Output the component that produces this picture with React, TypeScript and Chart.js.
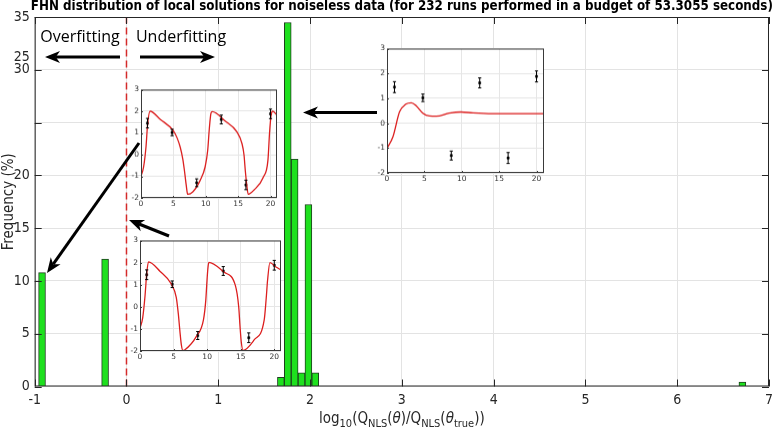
import React, { useEffect, useRef } from 'react';
import { Chart, registerables } from 'chart.js';

Chart.register(...registerables);

// ---------- data ----------
const binCenters = [-0.92, -0.233, 1.682, 1.757, 1.832, 1.907, 1.982, 2.057, 6.71];
const frequencyPct = [10.78, 12.07, 0.86, 34.48, 21.55, 1.29, 17.24, 1.29, 0.43];
const xTickValues = [-1, 0, 1, 2, 3, 4, 5, 6, 7];
const yTickValues = [0, 5, 10, 15, 20, 25, 30, 31.2, 35];
const yTickLabels = ['0', '5', '10', '15', '20', '', '30', '25', '35'];
const yGridValues = [0, 5, 10, 15, 20, 25, 30, 35];
const thresholdLine = [{ x: 0, y: 0 }, { x: 0, y: 35 }];

const obsTime = [1.0, 4.8, 8.6, 12.4, 16.2, 20.0];
const obsValue = [1.45, 1.02, -1.3, 1.62, -1.4, 1.88];
const obsError = [0.22, 0.15, 0.18, 0.2, 0.22, 0.22];

const insetXTicks = [0, 5, 10, 15, 20];
const insetYTicks = [-2, -1, 0, 1, 2, 3];

// inset A: fit of an underfitting local solution
const curveATime = [0, 0.4, 0.77, 1.03, 1.4, 3.0, 5.0, 5.6, 6.05, 6.45, 6.7, 7.0, 7.2, 8.0, 9.15, 9.9, 10.3, 10.55, 10.8, 11.0, 13.0, 14.8, 15.6, 15.9, 16.1, 16.35, 16.55, 17.4, 18.9, 19.6, 19.85, 20.1, 20.35, 21.0];
const curveAValue = [-1.0, -0.57, 0.35, 1.43, 2.0, 1.62, 1.1, 0.75, 0.35, -0.2, -0.72, -1.45, -1.83, -1.72, -1.18, -0.57, 0.2, 1.2, 1.9, 1.98, 1.55, 1.05, 0.5, 0.0, -0.72, -1.45, -1.83, -1.65, -1.03, -0.26, 1.0, 1.85, 2.0, 1.82];
// inset B: overfitting solution
const curveBTime = [0, 0.4, 0.75, 1.0, 1.26, 3.0, 4.67, 5.4, 5.7, 5.93, 6.15, 6.35, 6.7, 8.4, 9.45, 9.8, 9.95, 10.1, 10.25, 12.5, 14.2, 14.7, 14.9, 15.1, 15.35, 17.0, 18.5, 18.8, 19.0, 19.35, 20.25, 21.0];
const curveBValue = [-0.97, -0.5, 0.5, 1.5, 2.03, 1.6, 1.03, 0.43, -0.3, -1.06, -1.7, -1.97, -1.94, -1.34, -0.59, 0.3, 1.05, 1.7, 2.01, 1.57, 0.97, 0.0, -0.9, -1.64, -1.97, -1.5, -0.59, 0.4, 1.2, 2.0, 1.8, 1.67];
// inset C: damped solution of the tallest bin
const curveCTime = [0, 0.8, 1.68, 2.5, 3.25, 3.9, 4.8, 5.68, 6.6, 8.3, 9.9, 11.5, 14.1, 21.0];
const curveCValue = [-1.01, -0.54, 0.46, 0.76, 0.82, 0.7, 0.4, 0.29, 0.28, 0.4, 0.45, 0.41, 0.38, 0.38];

const TITLE = 'FHN distribution of local solutions for noiseless data (for 232 runs performed in a budget of 53.3055 seconds)';

// ---------- layout / style ----------
const W = 778;
const H = 430;
const NARROW = '"Liberation Sans Narrow", "DejaVu Sans Condensed", "Liberation Sans", Arial, sans-serif';
const SANS = '"Liberation Sans", Arial, sans-serif';
const AXIS = '#262626';
const GRID = '#e3e3e3';
const TITLE_WIDTH = 742;

const insetA = { left: 140.7, top: 89.3, width: 136, height: 108.4 };
const insetB = { left: 140, top: 240, width: 141, height: 111.3 };
const insetC = { left: 386.7, top: 48.3, width: 157.6, height: 124.4 };

const arrows = [
  [120, 57, 45, 57],
  [140, 57, 215, 57],
  [139, 143, 47, 273],
  [169, 236, 129, 220],
  [377, 112.5, 303, 112.5],
];

function drawArrow(ctx, x1, y1, x2, y2) {
  const lw = 3, headLen = 15, headHalf = 6;
  const a = Math.atan2(y2 - y1, x2 - x1);
  const c = Math.cos(a), s = Math.sin(a);
  const bx = x2 - headLen * c, by = y2 - headLen * s;
  const nx = x2 - headLen * 0.72 * c, ny = y2 - headLen * 0.72 * s;
  ctx.save();
  ctx.strokeStyle = '#000';
  ctx.fillStyle = '#000';
  ctx.lineWidth = lw;
  ctx.beginPath();
  ctx.moveTo(x1, y1);
  ctx.lineTo(nx, ny);
  ctx.stroke();
  ctx.beginPath();
  ctx.moveTo(x2, y2);
  ctx.lineTo(bx - headHalf * s, by + headHalf * c);
  ctx.lineTo(nx, ny);
  ctx.lineTo(bx + headHalf * s, by - headHalf * c);
  ctx.closePath();
  ctx.fill();
  ctx.restore();
}

const mainDecor = {
  id: 'mainDecor',
  afterDraw(chart) {
    const { ctx, chartArea: ca } = chart;
    const xs = chart.scales.x;
    const ys = chart.scales.y;
    ctx.save();
    // box
    ctx.strokeStyle = AXIS;
    ctx.lineWidth = 1;
    ctx.strokeRect(ca.left + 0.5, ca.top + 0.5, ca.right - ca.left - 1, ca.bottom - ca.top - 1);
    // inward ticks
    ctx.beginPath();
    xTickValues.forEach((v) => {
      const px = Math.round(xs.getPixelForValue(v)) + 0.5;
      ctx.moveTo(px, ca.bottom);
      ctx.lineTo(px, ca.bottom - 7);
      ctx.moveTo(px, ca.top);
      ctx.lineTo(px, ca.top + 7);
    });
    yGridValues.forEach((v) => {
      const py = Math.round(ys.getPixelForValue(v)) + 0.5;
      ctx.moveTo(ca.left, py);
      ctx.lineTo(ca.left + 7, py);
      ctx.moveTo(ca.right, py);
      ctx.lineTo(ca.right - 7, py);
    });
    ctx.stroke();

    // title, fitted to the reference width
    ctx.fillStyle = '#000';
    ctx.font = `bold 14px ${NARROW}`;
    const tw = ctx.measureText(TITLE).width;
    const size = Math.min(16, (14 * TITLE_WIDTH) / tw);
    ctx.font = `bold ${size.toFixed(2)}px ${NARROW}`;
    ctx.textAlign = 'center';
    ctx.textBaseline = 'middle';
    ctx.fillText(TITLE, (ca.left + ca.right) / 2, 7);

    // x label with subscripts
    const parts = [
      { t: 'log' }, { t: '10', sub: true }, { t: '(Q' }, { t: 'NLS', sub: true }, { t: '(' },
      { t: 'θ', it: true }, { t: ')/Q' }, { t: 'NLS', sub: true }, { t: '(' }, { t: 'θ', it: true },
      { t: 'true', sub: true }, { t: '))' },
    ];
    const fontOf = (p) => `${p.it ? 'italic ' : ''}${p.sub ? 11 : 15}px ${NARROW}`;
    let total = 0;
    parts.forEach((p) => { ctx.font = fontOf(p); p.w = ctx.measureText(p.t).width; total += p.w; });
    let x = (ca.left + ca.right) / 2 - total / 2;
    ctx.textAlign = 'left';
    ctx.textBaseline = 'alphabetic';
    ctx.fillStyle = AXIS;
    const base = 423;
    parts.forEach((p) => {
      ctx.font = fontOf(p);
      ctx.fillText(p.t, x, p.sub ? base + 4 : base);
      x += p.w;
    });

    // annotations
    ctx.fillStyle = '#000';
    ctx.font = `16px "Open Sans", ${SANS}`;
    ctx.textAlign = 'center';
    ctx.textBaseline = 'middle';
    ctx.fillText('Overfitting', 80, 37);
    ctx.fillText('Underfitting', 181, 37);
    arrows.forEach((a) => drawArrow(ctx, a[0], a[1], a[2], a[3]));
    ctx.restore();
  },
};

function MainChart() {
  const ref = useRef(null);
  useEffect(() => {
    const chart = new Chart(ref.current, {
      type: 'bar',
      data: {
        datasets: [
          {
            type: 'line',
            data: thresholdLine,
            borderColor: '#d42a2a',
            borderWidth: 1.5,
            borderDash: [7, 4],
            pointRadius: 0,
            order: 0,
          },
          {
            type: 'bar',
            data: binCenters.map((x, i) => ({ x, y: frequencyPct[i] })),
            backgroundColor: '#1ee01e',
            borderColor: '#1f3f1f',
            borderWidth: 1,
            borderSkipped: 'start',
            categoryPercentage: 1,
            barPercentage: 1,
            order: 1,
          },
        ],
      },
      options: {
        animation: false,
        responsive: false,
        maintainAspectRatio: false,
        events: [],
        layout: { padding: { left: 0, right: 4.6, top: 17, bottom: 0 } },
        plugins: { legend: { display: false }, tooltip: { enabled: false }, title: { display: false } },
        scales: {
          x: {
            type: 'linear',
            min: -1,
            max: 7,
            offset: false,
            afterBuildTicks: (s) => { s.ticks = xTickValues.map((v) => ({ value: v })); },
            afterFit: (s) => { s.height = 43.5; },
            grid: { color: GRID, drawTicks: false, offset: false },
            border: { display: false },
            ticks: {
              autoSkip: false,
              maxRotation: 0,
              padding: 5,
              color: AXIS,
              font: { family: NARROW, size: 14 },
              callback: (v) => String(v),
            },
          },
          y: {
            type: 'linear',
            min: 0,
            max: 35,
            afterBuildTicks: (s) => { s.ticks = yTickValues.map((v) => ({ value: v })); },
            afterFit: (s) => { s.width = 34.7; },
            grid: {
              color: (c) => (c.tick && yGridValues.includes(c.tick.value) ? GRID : 'rgba(0,0,0,0)'),
              drawTicks: false,
            },
            border: { display: false },
            ticks: {
              autoSkip: false,
              padding: 5,
              color: AXIS,
              font: { family: NARROW, size: 14 },
              callback: (v) => yTickLabels[yTickValues.indexOf(v)],
            },
            title: { display: true, text: 'Frequency (%)', color: AXIS, font: { family: NARROW, size: 15 }, padding: 0 },
          },
        },
      },
      plugins: [mainDecor],
    });
    return () => chart.destroy();
  }, []);
  return <canvas ref={ref} width={W} height={H} style={{ position: 'absolute', left: 0, top: 0, width: W, height: H }} />;
}

const insetDecor = {
  id: 'insetDecor',
  beforeDraw(chart) {
    const { ctx, chartArea: ca } = chart;
    ctx.save();
    ctx.fillStyle = '#fff';
    ctx.fillRect(ca.left, ca.top, ca.right - ca.left, ca.bottom - ca.top);
    ctx.restore();
  },
  afterDraw(chart) {
    const { ctx, chartArea: ca } = chart;
    const xs = chart.scales.x;
    const ys = chart.scales.y;
    ctx.save();
    // error bars
    chart.data.datasets.forEach((ds) => {
      if (!ds.errors) return;
      ctx.strokeStyle = '#000';
      ctx.lineWidth = 1;
      ds.data.forEach((p, i) => {
        const px = xs.getPixelForValue(p.x);
        const y1 = ys.getPixelForValue(p.y - ds.errors[i]);
        const y2 = ys.getPixelForValue(p.y + ds.errors[i]);
        ctx.beginPath();
        ctx.moveTo(px, y1); ctx.lineTo(px, y2);
        ctx.moveTo(px - 1.6, y1); ctx.lineTo(px + 1.6, y1);
        ctx.moveTo(px - 1.6, y2); ctx.lineTo(px + 1.6, y2);
        ctx.stroke();
      });
    });
    ctx.strokeStyle = '#3a3a3a';
    ctx.lineWidth = 1;
    ctx.strokeRect(ca.left + 0.5, ca.top + 0.5, ca.right - ca.left - 1, ca.bottom - ca.top - 1);
    ctx.beginPath();
    insetXTicks.forEach((v) => {
      const px = Math.round(xs.getPixelForValue(v)) + 0.5;
      ctx.moveTo(px, ca.bottom); ctx.lineTo(px, ca.bottom - 2);
    });
    insetYTicks.forEach((v) => {
      const py = Math.round(ys.getPixelForValue(v)) + 0.5;
      ctx.moveTo(ca.left, py); ctx.lineTo(ca.left + 2, py);
    });
    ctx.stroke();
    ctx.restore();
  },
};

function Inset({ box, t, y }) {
  const ref = useRef(null);
  const padL = 12, padT = 6, padR = 6, padB = 12;
  const cw = box.width + padL + padR;
  const chh = box.height + padT + padB;
  useEffect(() => {
    const tickFont = { family: '"DejaVu Sans", sans-serif', size: 7.5 };
    const chart = new Chart(ref.current, {
      type: 'line',
      data: {
        datasets: [
          {
            data: t.map((v, i) => ({ x: v, y: y[i] })),
            borderColor: '#dc1f1f',
            borderWidth: 1.3,
            pointRadius: 0,
            cubicInterpolationMode: 'monotone',
            fill: false,
          },
          {
            data: obsTime.map((v, i) => ({ x: v, y: obsValue[i] })),
            errors: obsError,
            showLine: false,
            pointStyle: 'rect',
            pointRadius: 1.5,
            backgroundColor: '#000',
            borderColor: '#000',
            borderWidth: 0.5,
          },
        ],
      },
      options: {
        animation: false,
        responsive: false,
        maintainAspectRatio: false,
        events: [],
        layout: { padding: { left: 0, right: padR, top: padT, bottom: 0 } },
        plugins: { legend: { display: false }, tooltip: { enabled: false } },
        scales: {
          x: {
            type: 'linear', min: 0, max: 21,
            afterBuildTicks: (s) => { s.ticks = insetXTicks.map((v) => ({ value: v })); },
            afterFit: (s) => { s.height = padB; },
            grid: { color: '#e6e6e6', drawTicks: false },
            border: { display: false },
            ticks: { autoSkip: false, maxRotation: 0, padding: 2, color: '#333', font: tickFont },
          },
          y: {
            type: 'linear', min: -2, max: 3,
            afterBuildTicks: (s) => { s.ticks = insetYTicks.map((v) => ({ value: v })); },
            afterFit: (s) => { s.width = padL; },
            grid: { color: '#e6e6e6', drawTicks: false },
            border: { display: false },
            ticks: { autoSkip: false, padding: 2, color: '#333', font: tickFont },
          },
        },
      },
      plugins: [insetDecor],
    });
    return () => chart.destroy();
  }, []);
  return (
    <canvas
      ref={ref}
      width={cw}
      height={chh}
      style={{ position: 'absolute', left: box.left - padL, top: box.top - padT, width: cw, height: chh }}
    />
  );
}

export default function App() {
  return (
    <div style={{ position: 'absolute', left: 0, top: 0, width: W, height: H, background: '#fff', overflow: 'hidden' }}>
      <MainChart />
      <Inset box={insetA} t={curveATime} y={curveAValue} />
      <Inset box={insetB} t={curveBTime} y={curveBValue} />
      <Inset box={insetC} t={curveCTime} y={curveCValue} />
    </div>
  );
}
